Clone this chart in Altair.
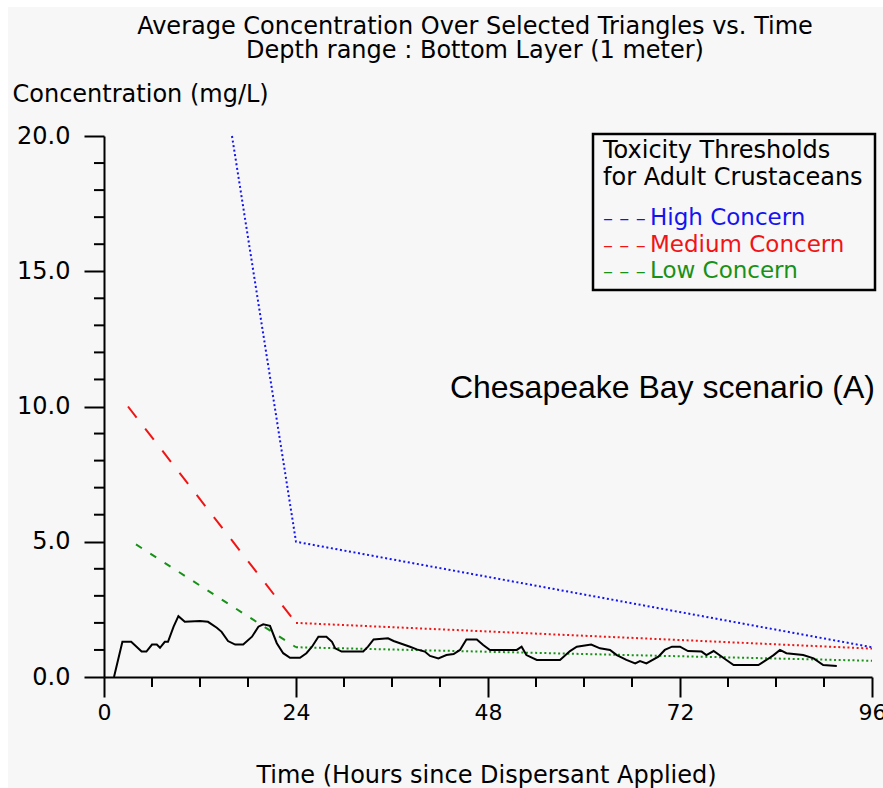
import altair as alt
import pandas as pd

# ---------------- data ----------------
TIME_HOURS = [1.25, 2.3, 3.4, 4.7, 5.3, 6.0, 6.6, 7.0, 7.6, 8.0, 8.7, 9.3, 10.1, 12.0, 13.0,
              14.1, 14.7, 15.5, 16.4, 17.4, 18.5, 19.3, 19.9, 20.75, 21.6, 22.4, 23.25, 24.5,
              25.3, 26.0, 26.8, 27.8, 28.5, 28.9, 29.7, 32.4, 33.0, 33.7, 35.5, 36.2, 37.0,
              38.25, 39.1, 40.1, 40.75, 41.8, 42.8, 43.7, 44.5, 45.3, 46.6, 47.4, 48.25, 49.3,
              51.6, 52.2, 52.8, 54.1, 57.0, 58.25, 59.1, 60.9, 62.0, 63.25, 64.1, 65.3, 66.4,
              67.0, 67.8, 69.3, 70.1, 71.0, 72.0, 73.0, 74.7, 75.3, 76.2, 77.8, 78.7, 81.8,
              82.8, 83.7, 84.5, 85.3, 87.4, 88.7, 89.9, 91.6]
CONCENTRATION = [0.0, 1.3, 1.3, 0.94, 0.94, 1.2, 1.2, 1.08, 1.3, 1.3, 1.86, 2.25, 2.04, 2.07, 2.04,
                 1.82, 1.67, 1.33, 1.2, 1.2, 1.49, 1.86, 1.95, 1.89, 1.25, 0.88, 0.71, 0.71,
                 0.88, 1.12, 1.49, 1.49, 1.3, 1.06, 0.94, 0.94, 1.12, 1.39, 1.43, 1.33, 1.25,
                 1.12, 1.02, 0.94, 0.78, 0.69, 0.81, 0.85, 1.0, 1.39, 1.39, 1.18, 1.0, 1.0,
                 1.0, 1.12, 0.81, 0.63, 0.63, 0.96, 1.12, 1.2, 1.06, 1.0, 0.81, 0.63, 0.5,
                 0.59, 0.5, 0.75, 1.0, 1.12, 1.12, 0.96, 0.94, 0.81, 0.96, 0.63, 0.44, 0.44,
                 0.63, 0.81, 1.0, 0.88, 0.81, 0.69, 0.44, 0.41]

SERIES = ["High Concern", "Medium Concern", "Low Concern"]
SERIES_COLORS = ["#1414f0", "#f01414", "#179117"]
HIGH_T = [16, 24, 96]
HIGH_C = [20.0, 5.0, 1.1]
MED_T = [3, 24, 96]
MED_C = [10.0, 2.0, 1.05]
LOW_T = [4, 24, 96]
LOW_C = [4.9, 1.1, 0.6]

X_MAJOR = [0, 24, 48, 72, 96]
X_MINOR = [6, 12, 18, 30, 36, 42, 54, 60, 66, 78, 84, 90]
Y_MAJOR = [0, 5, 10, 15, 20]
Y_MINOR = [1, 2, 3, 4, 6, 7, 8, 9, 11, 12, 13, 14, 16, 17, 18, 19]

TITLE_LINES = ["Average Concentration Over Selected Triangles vs. Time",
               "Depth range : Bottom Layer (1 meter)"]
LEGEND_TITLE = ["Toxicity Thresholds", "for Adult Crustaceans"]
ANNOTATION = "Chesapeake Bay scenario (A)"

# ---------------- tables ----------------
conc_df = pd.DataFrame({"t": TIME_HOURS, "c": CONCENTRATION})

rows = []
for name, ts, cs in zip(SERIES, [HIGH_T, MED_T, LOW_T], [HIGH_C, MED_C, LOW_C]):
    for i in range(len(ts) - 1):
        style = "dot" if (name == "High Concern" or i > 0) else "dash"
        key = f"{name} {style}"
        rows.append({"t": ts[i], "c": cs[i], "seg": key})
        rows.append({"t": ts[i + 1], "c": cs[i + 1], "seg": key})
thr_df = pd.DataFrame(rows)

seg_domain = ["High Concern dot", "Medium Concern dash", "Medium Concern dot",
              "Low Concern dash", "Low Concern dot"]
seg_colors = [SERIES_COLORS[0], SERIES_COLORS[1], SERIES_COLORS[1],
              SERIES_COLORS[2], SERIES_COLORS[2]]
seg_dashes = [[2, 2.6], [14, 14], [2, 2.6], [7, 10], [2, 2.6]]

FONT = "DejaVu Sans"
BG = "#f7f7f7"

x_scale = alt.Scale(domain=[0, 96], nice=False, zero=False)
y_scale = alt.Scale(domain=[0, 20], nice=False)

x_axis = alt.Axis(
    values=X_MAJOR, tickSize=20,
    labelPadding=5, labelFlush=False, labelOverlap=False, labelFontSize=22,
    title="Time (Hours since Dispersant Applied)",
    titleX=382, titleY=105, titleAlign="center", titleBaseline="alphabetic",
    titleFontSize=24, zindex=2,
)
y_axis = alt.Axis(
    values=Y_MAJOR, format=".1f", tickSize=20,
    labelPadding=14, labelOverlap=False, labelFontSize=24,
    title="Concentration (mg/L)",
    titleAngle=0, titleX=-92, titleY=-35, titleAlign="left", titleBaseline="alphabetic",
    titleFontSize=24, zindex=2,
)

background = alt.Chart(pd.DataFrame({"a": [0]})).mark_rect(color=BG).encode(
    x=alt.value(-96), x2=alt.value(779), y=alt.value(-129), y2=alt.value(652)
)

x_minor = alt.Chart(pd.DataFrame({"t": X_MINOR})).mark_rule(color="black", strokeWidth=2).encode(
    x=alt.X("t:Q", scale=x_scale), y=alt.value(541), y2=alt.value(551)
)
y_minor = alt.Chart(pd.DataFrame({"c": Y_MINOR})).mark_rule(color="black", strokeWidth=2).encode(
    y=alt.Y("c:Q", scale=y_scale), x=alt.value(-10), x2=alt.value(0)
)

thresholds = alt.Chart(thr_df).mark_line(strokeWidth=2).encode(
    x=alt.X("t:Q", scale=x_scale, axis=x_axis),
    y=alt.Y("c:Q", scale=y_scale, axis=y_axis),
    color=alt.Color("seg:N", scale=alt.Scale(domain=seg_domain, range=seg_colors), legend=None),
    strokeDash=alt.StrokeDash("seg:N", scale=alt.Scale(domain=seg_domain, range=seg_dashes), legend=None),
)

conc_line = alt.Chart(conc_df).mark_line(color="black", strokeWidth=2).encode(
    x=alt.X("t:Q", scale=x_scale),
    y=alt.Y("c:Q", scale=y_scale),
)

legend_box = alt.Chart(pd.DataFrame({"a": [0]})).mark_rect(
    fill=BG, stroke="black", strokeWidth=2.5
).encode(x=alt.value(489), x2=alt.value(771), y=alt.value(-2), y2=alt.value(154))

legend_layers = []
for i, line in enumerate(LEGEND_TITLE):
    legend_layers.append(
        alt.Chart(pd.DataFrame({"a": [0]})).mark_text(
            text=line, font=FONT, fontSize=24, color="black", align="left", baseline="alphabetic"
        ).encode(x=alt.value(499), y=alt.value(22 + 27 * i))
    )
for i, (name, col) in enumerate(zip(SERIES, SERIES_COLORS)):
    yb = 89 + 26.5 * i
    legend_layers.append(
        alt.Chart(pd.DataFrame({"a": [0]})).mark_text(
            text="– – –", font=FONT, fontSize=20, color=col, align="left", baseline="alphabetic"
        ).encode(x=alt.value(499), y=alt.value(yb))
    )
    legend_layers.append(
        alt.Chart(pd.DataFrame({"a": [0]})).mark_text(
            text=name, font=FONT, fontSize=23, color=col, align="left", baseline="alphabetic"
        ).encode(x=alt.value(546), y=alt.value(yb))
    )

annotation = alt.Chart(pd.DataFrame({"a": [0]})).mark_text(
    text=ANNOTATION, font="Liberation Sans", fontSize=32, color="black",
    align="right", baseline="alphabetic"
).encode(x=alt.value(771), y=alt.value(262))

chart = alt.layer(
    background, x_minor, y_minor, thresholds, conc_line, legend_box, *legend_layers, annotation
).properties(
    width=768, height=541,
    padding={"left": 104, "top": 136, "right": 11, "bottom": 111},
    autosize=alt.AutoSizeParams(type="none"),
    background="#ffffff",
    title=alt.TitleParams(
        text=TITLE_LINES, font=FONT, fontSize=24, fontWeight="normal", color="black",
        anchor="middle", frame="group", dx=-13, dy=60, lineHeight=24,
    ),
).configure_view(stroke="transparent").configure_axis(
    grid=False, domainColor="black", domainWidth=2, tickColor="black", tickWidth=2,
    labelColor="black", titleColor="black", labelFont=FONT, titleFont=FONT,
    titleFontWeight="normal",
)

chart.save("out.html", embed_options={"renderer": "svg", "actions": False})
